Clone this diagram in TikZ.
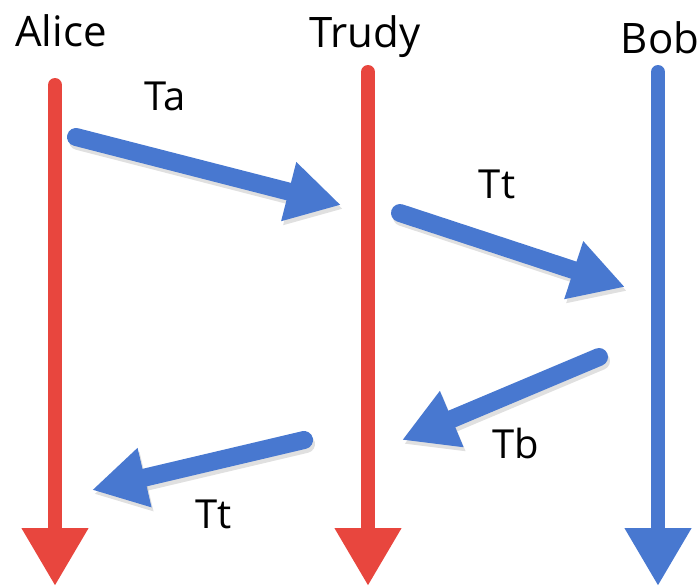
\documentclass[tikz,border=0pt]{standalone}
\usepackage{fontspec}
\setmainfont{Open Sans}
\usetikzlibrary{arrows.meta}
\definecolor{lifered}{RGB}{232,70,62}
\definecolor{msgblue}{RGB}{72,120,208}
\tikzset{
  party/.style={font=\fontsize{42}{46}\selectfont, anchor=base, inner sep=0pt},
  msglabel/.style={font=\fontsize{40}{44}\selectfont, anchor=base, inner sep=0pt},
  lifeline/.style={line width=14pt, line cap=round},
  message/.style={line width=18pt, line cap=round, draw=msgblue,
    -{Triangle[width=57pt,length=54pt]}},
  msgshadow/.style={line width=18pt, line cap=round, draw=black, opacity=0.12,
    -{Triangle[width=57pt,length=54pt]}},
}
\begin{document}
\begin{tikzpicture}[x=1pt,y=-1pt]
  \useasboundingbox (0,0) rectangle (700,587);

  % party names
  \node[party] (alice) at (61,46) {Alice};
  \node[party] (trudy) at (365,47) {Trudy};
  \node[party] (bob)   at (660,53) {Bob};

  % lifeline end points
  \coordinate (aTop) at (55,85);   \coordinate (aBot) at (55,586);
  \coordinate (tTop) at (368,72);  \coordinate (tBot) at (368,586);
  \coordinate (bTop) at (658,72);  \coordinate (bBot) at (658,586);

  \draw[lifeline, draw=lifered, -{Triangle[width=63pt,length=58pt,fill=lifered]}] (aTop) -- (aBot);
  \draw[lifeline, draw=lifered, -{Triangle[width=63pt,length=58pt,fill=lifered]}] (tTop) -- (tBot);
  \draw[lifeline, draw=msgblue, -{Triangle[width=63pt,length=58pt,fill=msgblue]}] (bTop) -- (bBot);

  % message end points
  \coordinate (m1s) at (76,137);  \coordinate (m1e) at (341,205);
  \coordinate (m2s) at (400,213); \coordinate (m2e) at (625,287);
  \coordinate (m3s) at (599,357); \coordinate (m3e) at (402,440);
  \coordinate (m4s) at (304,440); \coordinate (m4e) at (92,490);

  % soft shadows under the messages
  \foreach \s/\e in {m1s/m1e, m2s/m2e, m3s/m3e, m4s/m4e}
    \draw[msgshadow, transform canvas={shift={(2pt,-4pt)}}] (\s) -- (\e);

  % messages
  \draw[message] (m1s) -- (m1e);
  \draw[message] (m2s) -- (m2e);
  \draw[message] (m3s) -- (m3e);
  \draw[message] (m4s) -- (m4e);

  % message labels
  \node[msglabel] (ta)  at (165,110) {Ta};
  \node[msglabel] (tt1) at (497,198) {Tt};
  \node[msglabel] (tb)  at (516,458) {Tb};
  \node[msglabel] (tt2) at (214,528) {Tt};
\end{tikzpicture}
\end{document}
